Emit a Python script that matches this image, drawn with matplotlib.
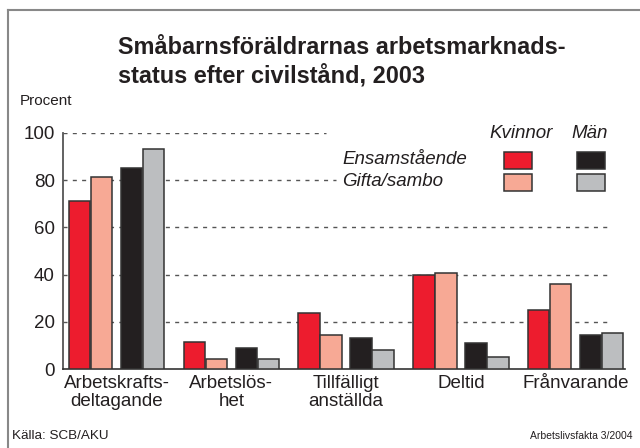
import numpy as np
import matplotlib
matplotlib.use('Agg')
import matplotlib.pyplot as plt
from matplotlib.patches import Rectangle
from matplotlib.lines import Line2D

plt.rcParams['font.family'] = ['Liberation Sans', 'DejaVu Sans']

# Data (procent)
categories = ['Arbetskrafts-\ndeltagande', 'Arbetslös-\nhet', 'Tillfälligt\nanställda',
              'Deltid', 'Frånvarande']
kvinnor_ensam = [71.3, 11.6, 23.9, 40.0, 25.0]
kvinnor_gifta = [81.5, 4.4, 14.3, 40.8, 35.9]
man_ensam = [85.3, 9.0, 13.0, 11.1, 14.5]
man_gifta = [93.1, 4.1, 8.0, 5.2, 15.2]

colors = ['#ED1C2E', '#F7A995', '#231F20', '#BCBEC0']
txt = '#231F20'
W, H = 640, 448

def fx(px):
    return px / W

def fy(py):
    return 1 - py / H

fig = plt.figure(figsize=(6.4, 4.48), dpi=100)
ax = fig.add_axes([fx(63), fy(369), fx(625) - fx(63), fy(133) - fy(369)])

x = np.arange(len(categories))
bw = 0.187
offsets = [0.0, 0.191, 0.452, 0.643]
series = [kvinnor_ensam, kvinnor_gifta, man_ensam, man_gifta]
for off, vals, c in zip(offsets, series, colors):
    ax.bar(x + off, vals, width=bw, align='edge', color=c,
           edgecolor='#333333', linewidth=1.1, zorder=3)

ax.set_xlim(-0.052, 4.845)
ax.set_ylim(0, 100)

# dashed gridlines (the top two stop before the legend)
grid_kw = dict(colors='#555555', linestyles=(0, (2.9, 3.8)), linewidth=1.0, zorder=1)
ax.hlines([20, 40, 60], -0.052, 4.70, **grid_kw)
ax.hlines(80, -0.052, 2.33, **grid_kw)
ax.hlines(100, -0.052, 2.24, **grid_kw)

ax.set_yticks([0, 20, 40, 60, 80, 100])
ax.tick_params(axis='y', length=0, pad=6, labelsize=13.5, labelcolor=txt)
ax.set_xticks(x + (offsets[-1] + bw) / 2)
ax.set_xticklabels(categories, fontsize=13.5, linespacing=1.1, color=txt)
ax.tick_params(axis='x', length=0, pad=4)

for s in ['top', 'right']:
    ax.spines[s].set_visible(False)
ax.spines['left'].set_color('#555555')
ax.spines['left'].set_linewidth(1.3)
ax.spines['bottom'].set_color('#333333')
ax.spines['bottom'].set_linewidth(1.2)

# Title and labels
fig.text(fx(118), fy(48), 'Småbarnsföräldrarnas arbetsmarknads-', fontsize=16.9,
         fontweight='bold', ha='left', va='center', color=txt)
fig.text(fx(118), fy(76), 'status efter civilstånd, 2003', fontsize=16.9,
         fontweight='bold', ha='left', va='center', color=txt)
fig.text(fx(20), fy(101), 'Procent', fontsize=11, ha='left', va='center', color=txt)

# Legend
fig.text(fx(521), fy(133), 'Kvinnor', fontsize=13.5, style='italic', ha='center', va='center', color=txt)
fig.text(fx(590), fy(133), 'Män', fontsize=13.5, style='italic', ha='center', va='center', color=txt)
fig.text(fx(342), fy(159), 'Ensamstående', fontsize=13.5, style='italic', ha='left', va='center', color=txt)
fig.text(fx(342), fy(182), 'Gifta/sambo', fontsize=13.5, style='italic', ha='left', va='center', color=txt)
boxes = [(504, 152, colors[0]), (504, 174, colors[1]), (577, 152, colors[2]), (577, 174, colors[3])]
for bx, by, c in boxes:
    fig.patches.append(Rectangle((fx(bx), fy(by + 17)), fx(28), 17 / H, facecolor=c,
                                 edgecolor='#333333', linewidth=1.1,
                                 transform=fig.transFigure, figure=fig))

# Footer
fig.text(fx(12), fy(436), 'Källa: SCB/AKU', fontsize=9.7, ha='left', va='center', color=txt)
fig.text(fx(632), fy(436), 'Arbetslivsfakta 3/2004', fontsize=7.5, ha='right', va='center', color=txt)

# Frame
frame_kw = dict(color='#888888', linewidth=1.5, transform=fig.transFigure)
fig.lines.append(Line2D([fx(8), 1], [fy(10), fy(10)], **frame_kw))
fig.lines.append(Line2D([fx(8), fx(8)], [fy(10), 0], **frame_kw))

fig.savefig('out.png', dpi=100)
